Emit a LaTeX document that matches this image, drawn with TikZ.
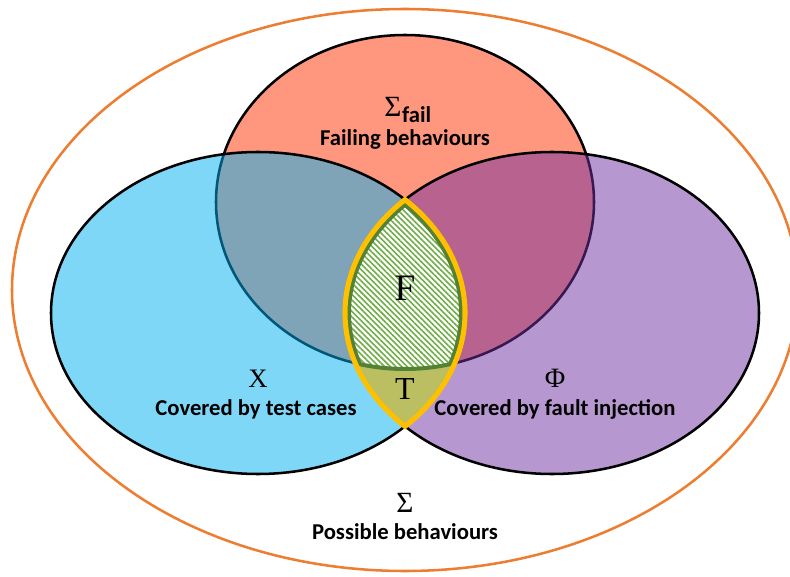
\documentclass[tikz,border=0pt]{standalone}
\usepackage{fontspec}
\setmainfont{Liberation Serif}
\newfontfamily\lbl{Carlito}
\usetikzlibrary{patterns.meta}

\definecolor{failred}{RGB}{255,150,126}
\definecolor{testblue}{RGB}{0,176,240}
\definecolor{fiviolet}{RGB}{112,48,160}
\definecolor{tolive}{RGB}{188,190,98}
\definecolor{hatchgreen}{RGB}{112,173,71}
\definecolor{fgreen}{RGB}{84,130,53}
\definecolor{lensgold}{RGB}{255,192,0}
\definecolor{outerorange}{RGB}{237,125,49}

\begin{document}
\begin{tikzpicture}[x=0.75pt,y=0.75pt,
  setline/.style={draw=black,line width=1.9pt},
  caption/.style={font=\lbl\bfseries\fontsize{17}{20}\selectfont,inner sep=0pt,anchor=base},
  sym/.style={font=\fontsize{#1}{#1}\selectfont,inner sep=0pt,anchor=base}]
\useasboundingbox (0,0) rectangle (790,576);

% the sets as closed paths
\def\outerE{(405,286) ellipse [x radius=393, y radius=281]}
\def\failE{(405,374) ellipse [x radius=189, y radius=167]}
\def\testE{(258,263) ellipse [x radius=207, y radius=161]}
\def\fiE{(552,263) ellipse [x radius=207, y radius=161]}
\def\lensP{(405,149.6) arc[start angle=-44.76,end angle=44.76,x radius=207,y radius=161]
  arc[start angle=135.24,end angle=224.76,x radius=207,y radius=161] -- cycle}

% possible behaviours
\draw[outerorange,line width=1.9pt] \outerE;

% failing behaviours, test coverage, fault-injection coverage
\path[setline,fill=failred] \failE;
\path[setline,fill=testblue,fill opacity=0.5] \testE;
\path[setline,fill=fiviolet,fill opacity=0.5] \fiE;

% X and Phi overlap: T
\fill[tolive] \lensP;

% all three overlap: F (hatched)
\begin{scope}
  \clip \lensP;
  \fill[white] \failE;
  \fill[pattern={Lines[angle=-45,distance=3pt,line width=1.2pt]},pattern color=hatchgreen] \failE;
  \draw[fgreen,line width=3pt] \failE;
  \clip \failE;
  \draw[fgreen,line width=9pt] \lensP;
\end{scope}
\draw[lensgold,line width=3.8pt,line join=miter] \lensP;

% labels
\node[sym=22] (sfail) at (393,459) {Σ};
\node[caption,anchor=base west] (sfailsub) at ([yshift=-4.5pt]sfail.base east) {fail};
\node[caption] (failtxt) at (405,430) {Failing behaviours};

\node[sym=28] (fset) at (405,276) {F};
\node[sym=24] (tset) at (405,176) {T};

\node[sym=20] (xset) at (258,189) {X};
\node[caption] (xtxt) at (256,161) {Covered by test cases};

\node[sym=21] (phiset) at (555,189) {Φ};
\node[caption] (phitxt) at (555,161) {Covered by fault injection};

\node[sym=22] (sigma) at (405,64) {Σ};
\node[caption] (sigmatxt) at (405,37) {Possible behaviours};
\end{tikzpicture}
\end{document}
